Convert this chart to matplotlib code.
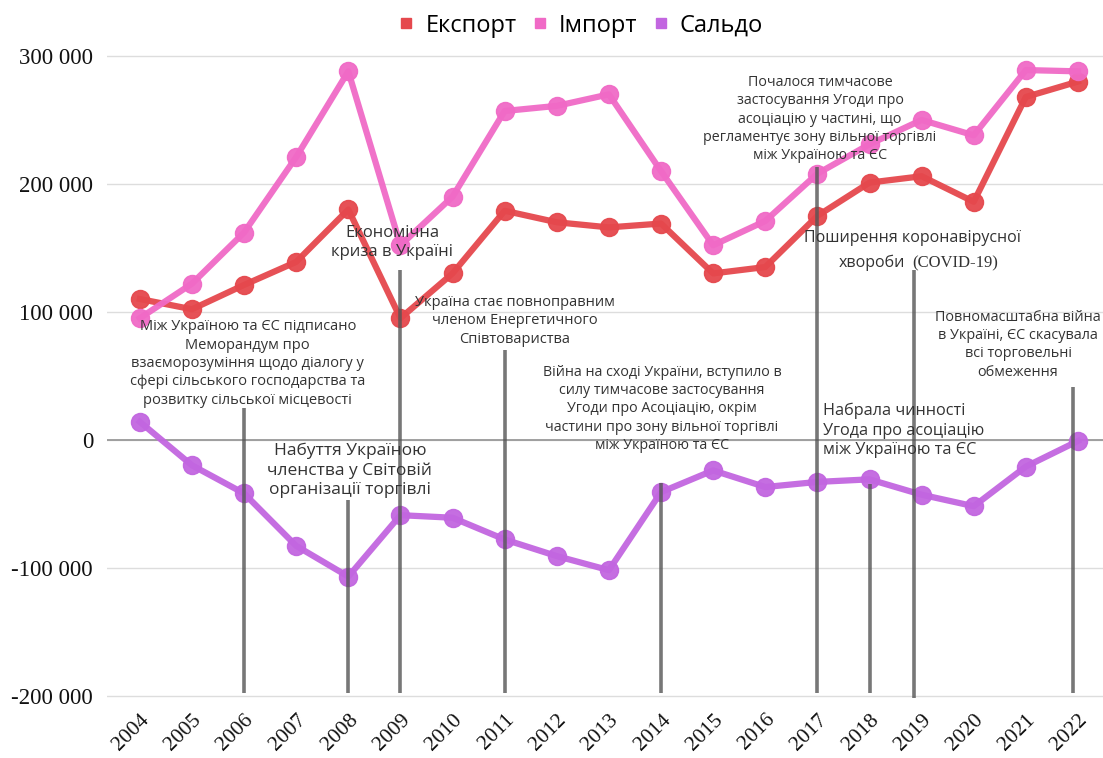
import matplotlib.pyplot as plt
from matplotlib.lines import Line2D
from matplotlib.ticker import FuncFormatter

years = list(range(2004, 2023))
export = [110000, 102000, 121000, 139000, 180000, 95000, 130000, 179000, 170000, 166000,
          169000, 130000, 135000, 175000, 201000, 206000, 186000, 268000, 280000]
imports = [95000, 122000, 162000, 221000, 288000, 152000, 190000, 257000, 261000, 270000,
           210000, 152000, 171000, 208000, 231000, 250000, 238000, 289000, 288000]
saldo = [14000, -20000, -42000, -83000, -107000, -59000, -61000, -78000, -91000, -102000,
         -41000, -24000, -37000, -33000, -31000, -43000, -52000, -21000, -1000]

# event markers: x position, top and bottom of the vertical line
event_x = [2006, 2008, 2009, 2011, 2014, 2017, 2018, 2018.85, 2021.9]
event_top = [25000, -47000, 133000, 70000, -34000, 213000, -35000, 133000, 41000]
event_bottom = [-198000, -198000, -198000, -198000, -198000, -198000, -198000, -202000, -198000]

notes = [
    (2006.07, 94000, "Між Україною та ЄС підписано\nМеморандум про\nвзаєморозуміння щодо діалогу у\nсфері сільського господарства та\nрозвитку сільської місцевості", 10.5, "center"),
    (2008.03, -2000, "Набуття Україною\nчленства у Світовій\nорганізації торгівлі", 12.5, "center"),
    (2008.84, 168000, "Економічна\nкриза в Україні", 12, "center"),
    (2011.2, 113000, "Україна стає повноправним\nчленом Енергетичного\nСпівтовариства", 10.5, "center"),
    (2014.02, 58600, "Війна на сході України, вступило в\nсилу тимчасове застосування\nУгоди про Асоціацію, окрім\nчастини про зону вільної торгівлі\nміж Україною та ЄС", 10.3, "center"),
    (2017.05, 285000, "Почалося тимчасове\nзастосування Угоди про\nасоціацію у частині, що\nрегламентує зону вільної торгівлі\nміж Україною та ЄС", 10.3, "center"),
    (2018.82, 164000, "Поширення коронавірусної", 11.5, "center"),
    (2017.1, 29000, "Набрала чинності\nУгода про асоціацію\nміж Україною та ЄС", 11.7, "left"),
    (2020.85, 101500, "Повномасштабна війна\nв Україні, ЄС скасувала\nвсі торговельні\nобмеження", 10.4, "center"),
]

c_exp = "#e5484d"
c_imp = "#f06ac6"
c_sal = "#c266e0"

plt.rcParams['font.family'] = ['Open Sans', 'DejaVu Sans']

fig = plt.figure(figsize=(11.03, 7.58), dpi=100)
ax = fig.add_axes([0.097, 0.074, 0.903, 0.869])

for y, c in [(export, c_exp), (imports, c_imp), (saldo, c_sal)]:
    ax.plot(years, y, color=c, lw=4.5, marker="o", ms=13, zorder=3, alpha=0.95)

for x, t, b in zip(event_x, event_top, event_bottom):
    ax.plot([x, x], [b, t], color="#555555", lw=2.6, alpha=0.8, zorder=4, solid_capstyle="butt")

for x, y, txt, fs, ha in notes:
    ax.text(x, y, txt, ha=ha, va="top", fontsize=fs, color="#333333",
            linespacing=1.3, zorder=5, multialignment=ha)

# second line of the covid note, with the latin part set in serif
ax.annotate("хвороби", (2018.82, 164000), xytext=(-5, -27), textcoords="offset points",
            ha="right", va="baseline", fontsize=11.5, color="#333333", zorder=5)
ax.annotate("(COVID-19)", (2018.82, 164000), xytext=(0, -27), textcoords="offset points",
            ha="left", va="baseline", fontsize=12, color="#333333", zorder=5,
            fontfamily="Liberation Serif")

ax.set_xlim(2003.37, 2022.48)
ax.set_ylim(-205000, 310000)
ax.set_yticks(range(-200000, 300001, 100000))
ax.yaxis.set_major_formatter(FuncFormatter(lambda v, p: f"{v:,.0f}".replace(",", " ")))
ax.set_xticks(years)
ax.set_xticklabels([str(y) for y in years], rotation=45, ha="right", rotation_mode="anchor")
for lab in ax.get_xticklabels():
    lab.set_fontfamily("Liberation Serif")
    lab.set_fontsize(15.5)
    lab.set_color("#111111")
for lab in ax.get_yticklabels():
    lab.set_fontfamily("Liberation Serif")
    lab.set_fontsize(16.5)
    lab.set_color("#111111")
ax.tick_params(length=0, pad=10)
ax.tick_params(axis="x", pad=6)

ax.grid(axis="y", color="#dddddd", lw=1)
ax.axhline(0, color="#999999", lw=1.3, zorder=1)
for s in ax.spines.values():
    s.set_visible(False)
ax.set_axisbelow(True)

handles = [Line2D([], [], ls="none", marker="s", ms=7, color=c) for c in (c_exp, c_imp, c_sal)]
fig.legend(handles, ["Експорт", "Імпорт", "Сальдо"], loc="upper center",
           bbox_to_anchor=(0.527, 1.01), ncol=3, frameon=False, fontsize=17,
           handlelength=0.6, handletextpad=0.5, columnspacing=0.7)

fig.savefig("out.png", dpi=100)
